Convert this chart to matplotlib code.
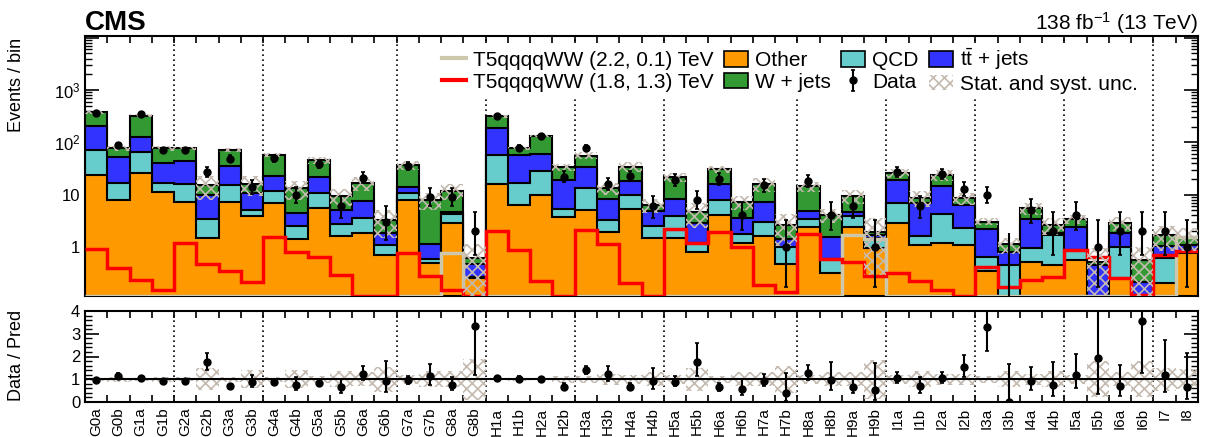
import numpy as np
import matplotlib
matplotlib.use('Agg')
import matplotlib.pyplot as plt
from matplotlib.lines import Line2D
from matplotlib.patches import Patch
from matplotlib.ticker import FixedLocator, MultipleLocator, NullFormatter

c_other = '#ff9900'
c_qcd = '#66cccc'
c_tt = '#3333ff'
c_w = '#339933'
c_red = '#ff0000'
c_beige = '#cdc7ab'
unc_color = '#c4bab0'
unc_hatch = 'xxx'

plt.rcParams['font.family'] = ['Liberation Sans', 'DejaVu Sans']
plt.rcParams['mathtext.fontset'] = 'custom'
plt.rcParams['mathtext.rm'] = 'Liberation Sans'
plt.rcParams['mathtext.it'] = 'Liberation Sans:italic'
plt.rcParams['mathtext.bf'] = 'Liberation Sans:bold'
plt.rcParams['hatch.linewidth'] = 1.2
plt.rcParams['hatch.color'] = unc_color

# search bins
bins = ['G0a', 'G0b', 'G1a', 'G1b', 'G2a', 'G2b', 'G3a', 'G3b', 'G4a', 'G4b',
        'G5a', 'G5b', 'G6a', 'G6b', 'G7a', 'G7b', 'G8a', 'G8b', 'H1a', 'H1b',
        'H2a', 'H2b', 'H3a', 'H3b', 'H4a', 'H4b', 'H5a', 'H5b', 'H6a', 'H6b',
        'H7a', 'H7b', 'H8a', 'H8b', 'H9a', 'H9b', 'I1a', 'I1b', 'I2a', 'I2b',
        'I3a', 'I3b', 'I4a', 'I4b', 'I5a', 'I5b', 'I6a', 'I6b', 'I7', 'I8']

# background predictions per bin
other = [23.8, 7.9, 26.4, 11.4, 7.1, 1.47, 7.36, 3.9, 6.8, 1.42,
         5.65, 1.65, 1.82, 0.70, 7.9, 0.50, 2.83, 0.25, 16.0, 6.35,
         9.87, 3.69, 5.1, 1.91, 5.25, 1.47, 1.47, 0.81, 4.1, 1.17,
         1.65, 0.47, 2.45, 0.31, 2.45, 0.94, 2.83, 1.09, 1.21, 1.09,
         0.34, 0.08, 0.52, 0.45, 0.55, 0.05, 0.25, 0.05, 0.20, 0.78]
qcd = [47.8, 8.6, 40.1, 5.6, 8.7, 1.91, 7.94, 1.2, 5.0, 1.14,
       4.95, 1.1, 1.82, 0.39, 2.7, 0.08, 1.44, 0.02, 41.5, 10.15,
       18.5, 1.64, 8.1, 1.29, 4.62, 1.09, 2.45, 0.40, 3.8, 0.60,
       1.31, 0.52, 0.93, 0.27, 1.53, 0.53, 4.17, 0.53, 3.06, 1.18,
       0.31, 0.37, 0.42, 1.25, 0.33, 0.01, 0.74, 0.01, 0.41, 0.03]
ttbar = [133.4, 35.3, 58.5, 22.8, 29.0, 6.49, 20.1, 5.5, 11.3, 1.84,
         10.9, 2.35, 4.06, 0.73, 3.2, 0.56, 0.47, 0.20, 134.5, 41.0,
         31.6, 13.3, 21.2, 5.1, 8.43, 2.24, 4.23, 1.62, 7.9, 1.76,
         4.4, 0.41, 1.57, 1.0, 0.76, 0.23, 12.1, 5.4, 10.43, 3.93,
         1.53, 0.36, 2.44, 0.12, 1.57, 0.39, 0.83, 0.15, 0.43, 0.28]
wjets = [171.0, 25.2, 199.0, 37.2, 32.2, 5.43, 36.2, 5.4, 34.4, 8.8,
         24.5, 4.3, 9.3, 1.46, 22.7, 6.76, 7.16, 0.13, 120.0, 19.5,
         72.0, 14.8, 21.3, 4.9, 16.1, 1.55, 13.35, 1.77, 15.2, 3.61,
         8.64, 1.23, 9.35, 2.52, 4.66, 0.26, 6.5, 1.7, 9.1, 2.3,
         0.87, 0.31, 2.12, 0.81, 0.95, 0.07, 1.01, 0.35, 0.66, 0.46]
# relative stat+syst uncertainty on the total prediction
unc_rel = [0.07, 0.10, 0.06, 0.10, 0.08, 0.48, 0.10, 0.40, 0.10, 0.40,
           0.15, 0.35, 0.30, 0.55, 0.20, 0.35, 0.35, 0.90, 0.05, 0.06,
           0.05, 0.15, 0.15, 0.25, 0.20, 0.30, 0.20, 0.50, 0.15, 0.30,
           0.30, 0.60, 0.20, 0.30, 0.30, 0.85, 0.20, 0.35, 0.25, 0.25,
           0.15, 0.35, 0.25, 0.35, 0.20, 0.80, 0.30, 0.80, 0.50, 0.45]
# observed events
data = [365, 87, 343, 70, 70, 27, 49, 14, 50, 10,
        38, 6, 21, 3, 35, 9, 9, 2, 325, 79,
        132, 22, 78, 16, 23, 6, 19, 8, 20, 4,
        15, 1, 18, 4, 6, 1, 27, 6, 25, 13,
        10, 0, 5, 2, 4, 1, 2, 2, 2, 1]
# signal models
sig_22_01 = [0, 0, 0, 0, 0, 0, 0, 0, 0, 0,
             0, 0, 0, 0, 0, 0, 0.76, 0, 0, 0,
             0, 0, 0, 0, 0, 0, 0, 0, 0, 0,
             0, 0, 0, 0, 1.7, 1.4, 0, 0, 0, 0,
             0, 0, 0, 0, 0, 0, 0, 0, 0, 1.58]
sig_18_13 = [0.90, 0.39, 0.234, 0.15, 1.17, 0.47, 0.35, 0.21, 1.53, 0.79,
             0.65, 0.29, 0, 0, 0.78, 0.28, 0.15, 0, 2.05, 0.88,
             0.22, 0, 2.1, 1.14, 0.20, 0, 2.21, 1.17, 1.91, 1.0,
             0.19, 0.136, 1.77, 0.59, 0.52, 0.28, 0.31, 0.22, 0.15, 0,
             0.42, 0.17, 0.23, 0.27, 0.88, 0.65, 0.25, 0.12, 0.70, 0.85]
# bin indices of the dotted group separators
dividers = [4, 8, 14, 18, 22, 26, 32, 36, 40, 44, 48]

y_lo, y_hi = 0.115, 1.08e4

nb = len(bins)
edges = np.arange(nb + 1)
centers = edges[:-1] + 0.5

stack = np.cumsum([other, qcd, ttbar, wjets], axis=0)
total = stack[-1]
unc = np.array(unc_rel)

# Poisson (Garwood-like) intervals on the observed counts
n = np.array(data, float)
nn = np.maximum(n, 1)
up = n + np.sqrt(n + 0.75) + 1.0
low = np.where(n > 0, n * (1 - 1 / (9 * nn) - 1 / (3 * np.sqrt(nn))) ** 3, 0)
err_lo = n - low
err_hi = up - n

fig = plt.figure(figsize=(12.1, 4.37), dpi=100)
ax = fig.add_axes([85 / 1210, 141 / 437, 1113 / 1210, 260 / 437])
ax2 = fig.add_axes([85 / 1210, 35 / 437, 1113 / 1210, 91 / 437])

##############################################################################
# main panel

colors = [c_other, c_qcd, c_tt, c_w]
for k in reversed(range(4)):
    ax.stairs(stack[k], edges, baseline=1e-3, fill=True, facecolor=colors[k],
              edgecolor='black', linewidth=1.5, zorder=2)

ax.stairs(np.where(np.array(sig_22_01) > 0, sig_22_01, y_lo), edges, baseline=None,
          color=c_beige, linewidth=2.5, zorder=3)
ax.stairs(np.where(np.array(sig_18_13) > 0, sig_18_13, y_lo), edges, baseline=None,
          color=c_red, linewidth=2.5, zorder=3)

ax.stairs(total * (1 + unc), edges, baseline=total * (1 - unc), fill=True,
          facecolor='none', edgecolor=unc_color, hatch=unc_hatch, linewidth=0, zorder=4)

has = n > 0
h_data = ax.errorbar(centers[has], n[has], yerr=[err_lo[has], err_hi[has]], fmt='o',
                     color='black', ms=5, elinewidth=1.5, capsize=1.5, capthick=1.2, zorder=5)
ax.vlines(centers[~has], y_lo, up[~has], color='black', linewidth=1.5, zorder=5)

for d in dividers:
    ax.axvline(d, color='black', linestyle=(0, (1, 2)), linewidth=1.2, zorder=1)

ax.set_yscale('log')
ax.set_ylim(y_lo, y_hi)
ax.set_xlim(0, nb)
ax.yaxis.set_major_locator(FixedLocator([1, 10, 100, 1000, 10000]))
ax.set_yticklabels(['1', '10', r'$10^{2}$', r'$10^{3}$', ''])
minors = [m * 10.0 ** e for e in range(-1, 4) for m in range(2, 10)]
ax.yaxis.set_minor_locator(FixedLocator(minors))
ax.yaxis.set_minor_formatter(NullFormatter())
ax.set_xticks(edges[1:-1])
ax.tick_params(axis='x', which='major', direction='in', top=True, length=5, width=1.2,
               labelbottom=False)
ax.tick_params(axis='y', which='major', direction='in', right=True, length=10, width=1.2,
               labelsize=12)
ax.tick_params(axis='y', which='minor', direction='in', right=True, length=5, width=1)
for s in ax.spines.values():
    s.set_linewidth(1.5)
ax.set_ylabel('Events / bin', fontsize=13)
ax.yaxis.set_label_coords(-0.054, 0.81)

handles = [
    Line2D([], [], color=c_beige, linewidth=3),
    Line2D([], [], color=c_red, linewidth=3),
    Patch(facecolor=c_other, edgecolor='black', linewidth=1.2),
    Patch(facecolor=c_w, edgecolor='black', linewidth=1.2),
    Patch(facecolor=c_qcd, edgecolor='black', linewidth=1.2),
    h_data,
    Patch(facecolor=c_tt, edgecolor='black', linewidth=1.2),
    Patch(facecolor='none', edgecolor=unc_color, hatch=unc_hatch, linewidth=0),
]
labels = ['T5qqqqWW (2.2, 0.1) TeV', 'T5qqqqWW (1.8, 1.3) TeV', 'Other', 'W + jets',
          'QCD', 'Data', r'$\mathrm{t\bar{t}}$ + jets', 'Stat. and syst. unc.']
leg = ax.legend(handles, labels, ncol=4, loc='upper left',
                bbox_to_anchor=(439 / 1210, 1 - 43 / 437), bbox_transform=fig.transFigure,
                fontsize=15, handlelength=1.15, handleheight=0.8, handletextpad=0.33,
                columnspacing=0.5, labelspacing=0.12, borderpad=0.15, borderaxespad=0,
                frameon=True, fancybox=False, framealpha=1, edgecolor='none')
leg.set_zorder(10)

fig.text(85 / 1210, 1 - 30 / 437, 'CMS', fontsize=20, fontweight='bold',
         ha='left', va='baseline')
fig.text(1198 / 1210, 1 - 30 / 437, r'138 fb$^{-1}$ (13 TeV)', fontsize=15,
         ha='right', va='baseline')

##############################################################################
# ratio panel

ax2.stairs(1 + unc, edges, baseline=1 - unc, fill=True, facecolor='none',
           edgecolor=unc_color, hatch=unc_hatch, linewidth=0, zorder=2)
ax2.axhline(1, color='black', linewidth=1.5, zorder=3)
ax2.errorbar(centers, n / total, yerr=[err_lo / total, err_hi / total], fmt='o',
             color='black', ms=5, elinewidth=1.5, capsize=1.5, capthick=1.2, zorder=5)
for d in dividers:
    ax2.axvline(d, color='black', linestyle=(0, (1, 2)), linewidth=1.2, zorder=1)

ax2.set_xlim(0, nb)
ax2.set_ylim(0, 4)
ax2.set_yticks([0, 1, 2, 3, 4])
ax2.yaxis.set_minor_locator(MultipleLocator(0.2))
ax2.set_xticks(edges[1:-1])
ax2.set_xticks(centers, labels=bins, minor=True, rotation=90)
ax2.tick_params(axis='x', which='major', direction='in', top=True, length=5, width=1.2,
                labelbottom=False)
ax2.tick_params(axis='x', which='minor', length=0, pad=4, labelsize=11)
ax2.tick_params(axis='y', which='major', direction='in', right=True, length=10, width=1.2,
                labelsize=12)
ax2.tick_params(axis='y', which='minor', direction='in', right=True, length=5, width=1)
for s in ax2.spines.values():
    s.set_linewidth(1.5)
ax2.set_ylabel('Data / Pred', fontsize=13)
ax2.yaxis.set_label_coords(-0.054, 0.51)

fig.savefig('out.png', dpi=100)
